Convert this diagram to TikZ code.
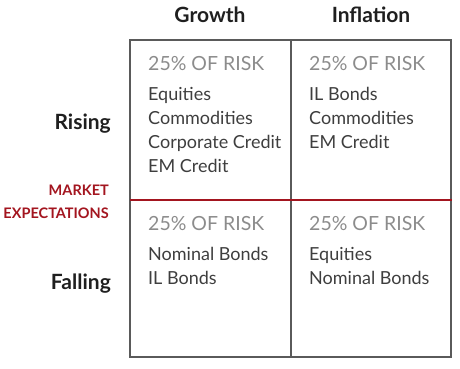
\documentclass[tikz,border=0pt]{standalone}
\usepackage{fontspec}
\setmainfont{Lato}
\usetikzlibrary{positioning}
\definecolor{riskred}{HTML}{A3151F}
\definecolor{framegray}{HTML}{5A5A5A}
\definecolor{riskgray}{HTML}{8C8C8C}
\definecolor{itemgray}{HTML}{3E3E3E}
\tikzset{
  head/.style={inner sep=0pt, text=black!88, font=\bfseries\fontsize{21}{24}\selectfont},
  mkt/.style={inner sep=0pt, anchor=base east, text=riskred, font=\bfseries\fontsize{14.5}{16}\selectfont},
  risk/.style={inner sep=0pt, anchor=base west, text=riskgray, font=\fontsize{19.5}{22}\selectfont},
  asset/.style={inner sep=0pt, anchor=base west, text=itemgray, font=\fontsize{18}{20}\selectfont},
}
\begin{document}
\begin{tikzpicture}[x=1pt, y=1pt]
	%%%%% START %%%%%
	\useasboundingbox (0,0) rectangle (460,-368);

	\draw[line width=1.3pt, color=framegray] (130,-40) rectangle (451,-357);
	\draw[line width=1.1pt, color=framegray] (291,-40) -- (291,-357);
	\draw[line width=2.6pt, color=riskred] (130,-200) -- (452,-200);

	\node[head, anchor=base] (growth) at (210,-22) {Growth};
	\node[head, anchor=base] (inflation) at (371,-22) {Inflation};
	\node[head, anchor=base east] (rising) at (111,-129) {Rising};
	\node[head, anchor=base east] (falling) at (111,-289) {Falling};

	\node[mkt] (market) at (109,-195) {MARKET};
	\node[mkt] (expect) at (109,-218) {EXPECTATIONS};

	\node[risk] (riskGR) at (148,-70) {25\% OF RISK};
	\node[risk] (riskIR) at (309,-70) {25\% OF RISK};
	\node[risk] (riskGF) at (148,-230) {25\% OF RISK};
	\node[risk] (riskIF) at (309,-230) {25\% OF RISK};

	\foreach \txt [count=\i] in {Equities, Commodities, Corporate Credit, EM Credit}
		\node[asset] (gr\i) at (148,-76-24*\i) {\txt};
	\foreach \txt [count=\i] in {IL Bonds, Commodities, EM Credit}
		\node[asset] (ir\i) at (309,-76-24*\i) {\txt};
	\foreach \txt [count=\i] in {Nominal Bonds, IL Bonds}
		\node[asset] (gf\i) at (148,-236-24*\i) {\txt};
	\foreach \txt [count=\i] in {Equities, Nominal Bonds}
		\node[asset] (if\i) at (309,-236-24*\i) {\txt};
	%%%%% END %%%%%
\end{tikzpicture}
\end{document}
